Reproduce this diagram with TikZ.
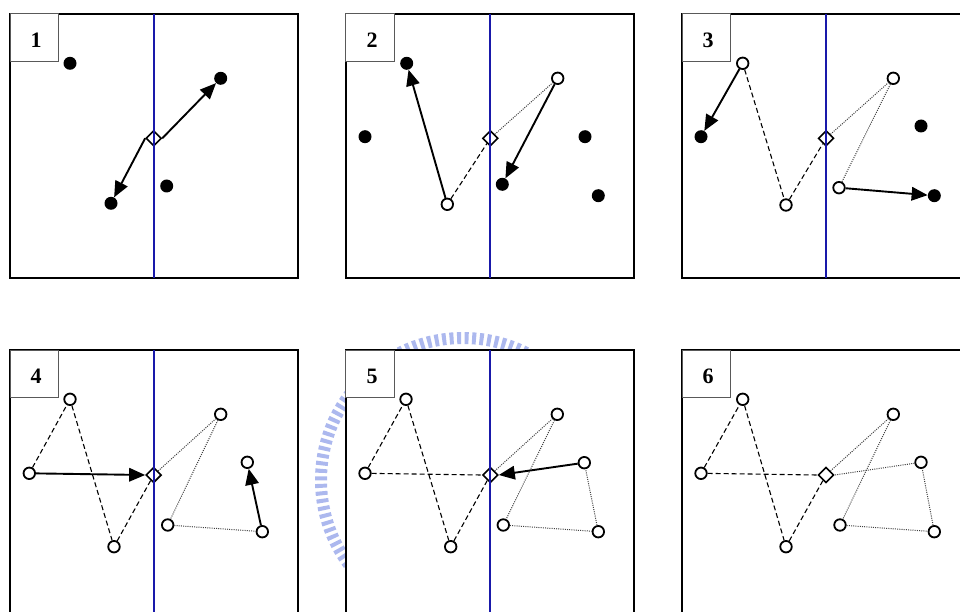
\documentclass[tikz,border=0pt]{standalone}
\usepackage{fontspec}
\setmainfont{Liberation Serif}
\usetikzlibrary{arrows.meta,shapes.geometric}
\definecolor{axisblue}{RGB}{25,25,170}
\definecolor{wmblue}{RGB}{172,184,238}
\tikzset{
  fdot/.style={circle,fill=black,inner sep=0pt,minimum size=13pt},
  odot/.style={circle,draw=black,line width=1.8pt,fill=white,inner sep=0pt,minimum size=11.5pt},
  dia/.style={diamond,draw=black,line width=1.6pt,inner sep=0pt,minimum size=15.5pt},
  panel/.style={draw=black,line width=2.2pt,fill=white},
  labelbox/.style={draw=black!65,line width=1pt,fill=white},
  lbl/.style={font=\fontsize{22}{24}\selectfont\bfseries},
  axis/.style={draw=axisblue,line width=2pt},
  mv/.style={draw=black,line width=1.9pt,-{Triangle[length=16pt,width=13.5pt]}},
  dsh/.style={draw=black,line width=1.1pt,dash pattern=on 5pt off 3pt},
  dtt/.style={draw=black!75,line width=1pt,dash pattern=on 1pt off 1.2pt},
}
\begin{document}
\begin{tikzpicture}[x=1pt,y=-1pt]
\useasboundingbox (0,0) rectangle (960,612);
\clip (0,0) rectangle (960,612);
% watermark
\draw[wmblue,line width=12pt,dash pattern=on 4pt off 3.5pt] (463,480) circle (142pt);
% ---------- panel 1 ----------
\draw[panel] (10,14) rectangle (297.7,277.7);
\draw[labelbox] (10,14) rectangle (58,62);
\node[lbl] (l1) at (36,40) {1};
\node[dia] (d1) at (153.7,138.3) {};
\node[fdot] (p1a) at (70,63.3) {};
\node[fdot] (p1b) at (220.7,78.3) {};
\node[fdot] (p1c) at (166.7,186) {};
\node[fdot] (p1d) at (111,203.3) {};
\draw[mv] (d1.west) -- (p1d);
\draw[mv] (d1.east) -- (p1b);
\draw[axis] (153.7,14) -- (153.7,277.7);
% ---------- panel 2 ----------
\draw[panel] (345.7,14) rectangle (634.3,277.7);
\draw[labelbox] (345.7,14) rectangle (394,62);
\node[lbl] (l2) at (372,40) {2};
\node[dia] (d2) at (490.3,138.3) {};
\node[odot] (p2c) at (447.3,204.3) {};
\node[odot] (p2d) at (557.7,78.3) {};
\node[fdot] (p2a) at (406.7,63.3) {};
\node[fdot] (p2b) at (365,136.7) {};
\node[fdot] (p2e) at (585,136.7) {};
\node[fdot] (p2f) at (598.3,195.7) {};
\node[fdot] (p2g) at (502.3,184.3) {};
\draw[dsh] (p2c) -- (d2);
\draw[dtt] (d2) -- (p2d);
\draw[mv] (p2c) -- (p2a);
\draw[mv] (p2d) -- (p2g);
\draw[axis] (490.3,14) -- (490.3,277.7);
% ---------- panel 3 ----------
\draw[panel] (682.3,14) rectangle (975,277.7);
\draw[labelbox] (682.3,14) rectangle (730,62);
\node[lbl] (l3) at (708,40) {3};
\node[dia] (d3) at (826,138.3) {};
\node[odot] (p3b) at (742.7,63.3) {};
\node[odot] (p3c) at (786,205) {};
\node[odot] (p3d) at (893.3,78.3) {};
\node[odot] (p3f) at (839,187.7) {};
\node[fdot] (p3a) at (701,136.7) {};
\node[fdot] (p3e) at (921,126) {};
\node[fdot] (p3g) at (934.3,195.7) {};
\draw[dsh] (p3b) -- (p3c);
\draw[dsh] (p3c) -- (d3);
\draw[dtt] (d3) -- (p3d);
\draw[dtt] (p3d) -- (p3f);
\draw[mv] (p3b) -- (p3a);
\draw[mv] (p3f) -- (p3g);
\draw[axis] (826,14) -- (826,277.7);
% ---------- panel 4 ----------
\draw[panel] (10,350) rectangle (297.7,640);
\draw[labelbox] (10,350) rectangle (58,397.7);
\node[lbl] (l4) at (36,376) {4};
\node[dia] (d4) at (153.7,475) {};
\node[odot] (p4a) at (29.3,473.3) {};
\node[odot] (p4b) at (70,399.3) {};
\node[odot] (p4c) at (114,546.7) {};
\node[odot] (p4d) at (220.7,414.3) {};
\node[odot] (p4e) at (247.3,462.3) {};
\node[odot] (p4f) at (167.7,525) {};
\node[odot] (p4g) at (262.3,531.7) {};
\draw[dsh] (p4a) -- (p4b);
\draw[dsh] (p4b) -- (p4c);
\draw[dsh] (p4c) -- (d4);
\draw[dtt] (d4) -- (p4d);
\draw[dtt] (p4d) -- (p4f);
\draw[dtt] (p4f) -- (p4g);
\draw[mv] (p4a) -- (d4.west);
\draw[mv] (p4g) -- (p4e);
\draw[axis] (153.7,350) -- (153.7,640);
% ---------- panel 5 ----------
\draw[panel] (345.7,350) rectangle (634.3,640);
\draw[labelbox] (345.7,350) rectangle (394,397.7);
\node[lbl] (l5) at (372,376) {5};
\node[dia] (d5) at (490.3,475) {};
\node[odot] (p5a) at (365,473.3) {};
\node[odot] (p5b) at (406,399.3) {};
\node[odot] (p5c) at (450.7,546.7) {};
\node[odot] (p5d) at (557.3,414.3) {};
\node[odot] (p5e) at (584.3,462.7) {};
\node[odot] (p5f) at (503.3,525) {};
\node[odot] (p5g) at (598.3,531.7) {};
\draw[dsh] (p5a) -- (p5b);
\draw[dsh] (p5b) -- (p5c);
\draw[dsh] (p5c) -- (d5);
\draw[dsh] (p5a) -- (d5.west);
\draw[dtt] (d5) -- (p5d);
\draw[dtt] (p5d) -- (p5f);
\draw[dtt] (p5f) -- (p5g);
\draw[dtt] (p5g) -- (p5e);
\draw[mv] (p5e) -- (d5.east);
\draw[axis] (490.3,350) -- (490.3,640);
% ---------- panel 6 ----------
\draw[panel] (682.3,350) rectangle (975,640);
\draw[labelbox] (682.3,350) rectangle (730,397.7);
\node[lbl] (l6) at (708,376) {6};
\node[dia] (d6) at (826,475) {};
\node[odot] (p6a) at (701,473.3) {};
\node[odot] (p6b) at (742.7,399.3) {};
\node[odot] (p6c) at (786,546.7) {};
\node[odot] (p6d) at (893.3,414.3) {};
\node[odot] (p6e) at (921,462.3) {};
\node[odot] (p6f) at (840,525) {};
\node[odot] (p6g) at (934.3,531.7) {};
\draw[dsh] (p6a) -- (p6b);
\draw[dsh] (p6b) -- (p6c);
\draw[dsh] (p6c) -- (d6);
\draw[dsh] (p6a) -- (d6.west);
\draw[dtt] (d6) -- (p6d);
\draw[dtt] (p6d) -- (p6f);
\draw[dtt] (p6f) -- (p6g);
\draw[dtt] (p6g) -- (p6e);
\draw[dtt] (p6e) -- (d6.east);
\end{tikzpicture}
\end{document}
